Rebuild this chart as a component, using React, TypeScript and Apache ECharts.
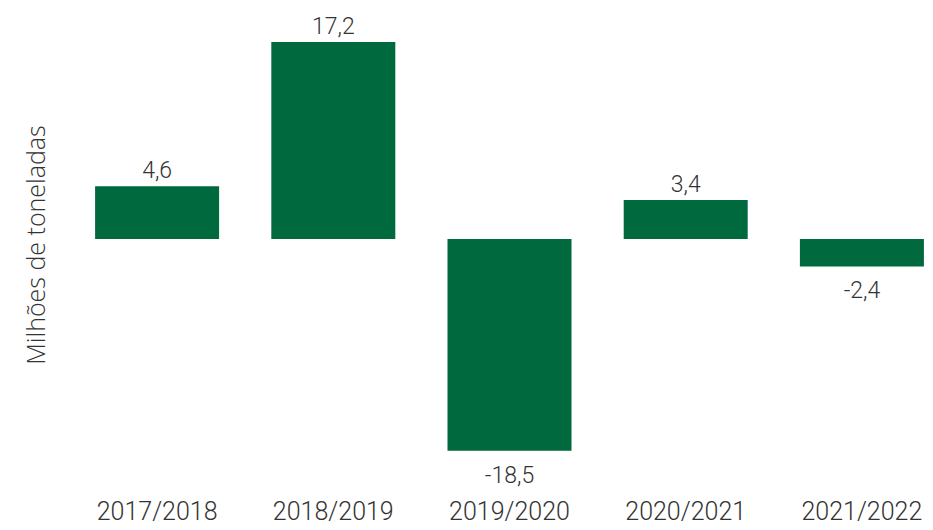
import React, { useEffect, useRef } from "react";
import * as echarts from "echarts";

const categories = ["2017/2018", "2018/2019", "2019/2020", "2020/2021", "2021/2022"];
const values = [4.6, 17.2, -18.5, 3.4, -2.4];
const yAxisName = "Milhões de toneladas";

const FONT = "Roboto, 'Open Sans', sans-serif";
const NAME_FONT = "'Open Sans', Roboto, sans-serif";
const TEXT = "#333333";

export default function App() {
  const ref = useRef<HTMLDivElement>(null);
  useEffect(() => {
    if (!ref.current) return;
    const chart = echarts.init(ref.current, null, { renderer: "svg" });
    chart.setOption({
      animation: false,
      grid: {
        left: 69,
        width: 881,
        top: 10,
        height: 458,
        containLabel: false,
        outerBoundsMode: "none",
      },
      xAxis: {
        type: "category",
        data: categories,
        axisLine: { show: false, onZero: false },
        axisTick: { show: false },
        axisLabel: {
          margin: 31,
          fontSize: 25,
          color: TEXT,
          fontFamily: FONT,
          fontWeight: 300,
          interval: 0,
        },
      },
      yAxis: {
        type: "value",
        min: -20,
        max: 20,
        axisLabel: { show: false },
        axisLine: { show: false },
        axisTick: { show: false },
        splitLine: { show: false },
        name: yAxisName,
        nameLocation: "middle",
        nameGap: 22,
        nameTextStyle: {
          fontSize: 25,
          color: TEXT,
          fontFamily: NAME_FONT,
          fontWeight: 300,
          padding: [0, 12, 0, 0],
        },
      },
      series: [
        {
          type: "bar",
          data: values.map((v) => ({
            value: v,
            label: { position: v >= 0 ? "top" : "bottom", distance: v >= 0 ? 4 : 13 },
          })),
          barWidth: 124,
          itemStyle: { color: "#00693E" },
          label: {
            show: true,
            fontSize: 23,
            color: TEXT,
            fontFamily: FONT,
            fontWeight: 300,
            formatter: (p: any) => String(p.value).replace(".", ","),
          },
        },
      ],
    });
    return () => chart.dispose();
  }, []);
  return <div ref={ref} style={{ width: 933, height: 530, margin: -8 }} />;
}
